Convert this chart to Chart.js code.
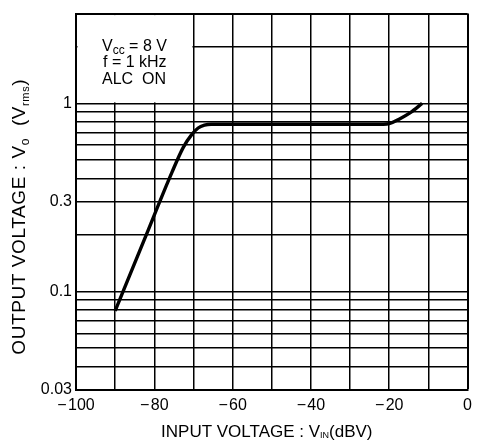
<!DOCTYPE html>
<html lang="en">
<head>
<meta charset="UTF-8">
<title>Output voltage vs input voltage (ALC ON)</title>
<script src="https://cdn.jsdelivr.net/npm/chart.js"></script>
<style>
  html, body { margin: 0; padding: 0; background: #fff; }
  #wrap { width: 478px; height: 441px; }
</style>
</head>
<body>
<div id="wrap"><canvas id="chart"></canvas></div>
<script>
// curve: input level (dBV) -> output (Vrms)
const inputDbv   = [-90, -82.5, -75.5, -72.6, -70.5, -68.8, -67.2, -65.5, -40, -21.5, -20, -17.6, -14.6, -11.6];
const outputVrms = [0.079, 0.19, 0.43, 0.584, 0.68, 0.74, 0.766, 0.775, 0.775, 0.775, 0.78, 0.822, 0.893, 1.0];

// grid lines and the ones that carry a label
const xGrid = [-100, -90, -80, -70, -60, -50, -40, -30, -20, -10, 0];
const xLabelled = [-100, -80, -60, -40, -20, 0];
const yGrid = [0.03, 0.04, 0.05, 0.06, 0.07, 0.08, 0.09, 0.1, 0.2, 0.3, 0.4, 0.5, 0.6, 0.7, 0.8, 0.9, 1, 2, 3];
const yLabelled = [0.03, 0.1, 0.3, 1];
const yLabelText = ['0.03', '0.1', '0.3', '1'];

const FONT = '"Liberation Sans", Arial, sans-serif';
const INK = '#000';

// text with subscript runs, drawn left to right
function drawRuns(ctx, runs, x, y, center) {
  let w = 0;
  runs.forEach(r => { ctx.font = r.size + 'px ' + FONT; w += ctx.measureText(r.t).width; });
  let cx = center ? x - w / 2 : x;
  runs.forEach(r => {
    ctx.font = r.size + 'px ' + FONT;
    ctx.fillText(r.t, cx, y + (r.dy || 0));
    cx += ctx.measureText(r.t).width;
  });
}

const conditionsBox = {
  id: 'conditionsBox',
  beforeDatasetsDraw(chart) {
    const ctx = chart.ctx, xs = chart.scales.x, ys = chart.scales.y;
    const l = xs.getPixelForValue(-100), r = xs.getPixelForValue(-70);
    const t = ys.getPixelForValue(3), b = ys.getPixelForValue(1);
    ctx.save();
    ctx.fillStyle = '#fff';
    ctx.fillRect(l + 1.5, t + 1.5, r - l - 2.5, b - t - 2.5);
    ctx.fillStyle = INK;
    ctx.textBaseline = 'alphabetic';
    ctx.textAlign = 'left';
    drawRuns(ctx, [{t: 'V', size: 16}, {t: 'cc', size: 12, dy: 3}, {t: ' = 8 V', size: 16}], l + 26, t + 37);
    drawRuns(ctx, [{t: 'f = 1 kHz', size: 16}], l + 27, t + 53);
    drawRuns(ctx, [{t: 'ALC  ON', size: 16}], l + 26, t + 70);
    ctx.restore();
  }
};

const axisTitles = {
  id: 'axisTitles',
  afterDraw(chart) {
    const ctx = chart.ctx, a = chart.chartArea;
    ctx.save();
    ctx.fillStyle = INK;
    ctx.textBaseline = 'alphabetic';
    ctx.textAlign = 'left';
    drawRuns(ctx, [
      {t: 'INPUT VOLTAGE : V', size: 17},
      {t: 'IN', size: 9, dy: 1},
      {t: '(dBV)', size: 17}
    ], (a.left + a.right) / 2 - 5, a.bottom + 47, true);
    ctx.translate(25, (a.top + a.bottom) / 2 + 15);
    ctx.rotate(-Math.PI / 2);
    ctx.letterSpacing = '0.6px';
    drawRuns(ctx, [
      {t: 'OUTPUT VOLTAGE : V', size: 19},
      {t: 'o', size: 12, dy: 4},
      {t: '  (V', size: 19},
      {t: 'rms', size: 11, dy: 4},
      {t: ')', size: 19}
    ], 0, 0, true);
    ctx.restore();
  }
};

new Chart(document.getElementById('chart'), {
  type: 'line',
  data: {
    datasets: [{
      data: inputDbv.map((x, i) => ({x: x, y: outputVrms[i]})),
      borderColor: '#000',
      borderWidth: 3.4,
      pointRadius: 0,
      cubicInterpolationMode: 'monotone',
      fill: false
    }]
  },
  options: {
    responsive: true,
    maintainAspectRatio: false,
    animation: false,
    layout: { padding: { top: 10, right: 4, left: 0, bottom: 0 } },
    plugins: { legend: { display: false }, tooltip: { enabled: false } },
    scales: {
      x: {
        type: 'linear',
        min: -100, max: 0,
        afterBuildTicks: s => { s.ticks = xGrid.map(v => ({value: v})); },
        afterFit: s => { s.height = 51; },
        ticks: {
          autoSkip: false, maxRotation: 0, padding: 6, color: INK,
          font: {size: 16, family: FONT},
          callback: v => xLabelled.includes(v) ? (v < 0 ? '\u2212\u200a' + Math.abs(v) : String(v)) : ''
        },
        grid: { color: '#000', lineWidth: c => (c.tick && c.tick.value === 0) ? 2 : 1.5, drawTicks: false },
        border: { color: INK, width: 2 }
      },
      y: {
        type: 'logarithmic',
        min: 0.03, max: 3,
        afterBuildTicks: s => { s.ticks = yGrid.map(v => ({value: v})); },
        afterFit: s => { s.width = 76; },
        ticks: {
          autoSkip: false, padding: 4, color: INK,
          font: {size: 16, family: FONT},
          callback: v => { const i = yLabelled.indexOf(v); return i >= 0 ? yLabelText[i] : ''; }
        },
        grid: { color: '#000', lineWidth: c => (c.tick && c.tick.value === 3) ? 2 : 1.5, drawTicks: false },
        border: { color: INK, width: 2 }
      }
    }
  },
  plugins: [conditionsBox, axisTitles]
});
</script>
</body>
</html>
